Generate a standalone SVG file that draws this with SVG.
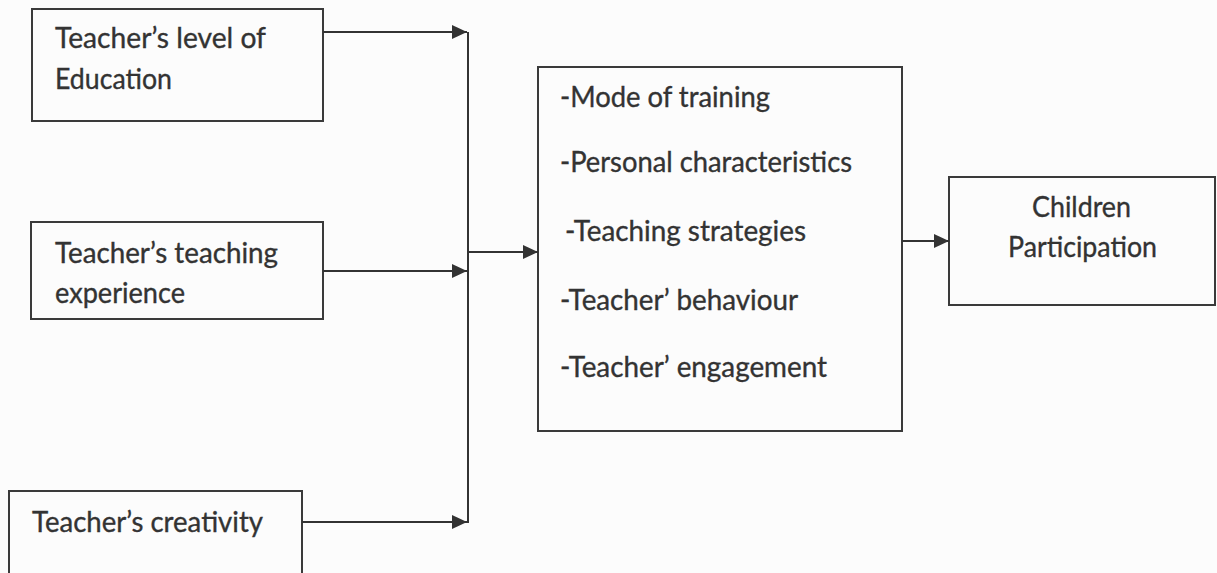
<svg xmlns="http://www.w3.org/2000/svg" width="1217" height="573" viewBox="0 0 1217 573">
  <style>
    .box { fill: none; stroke: #3a3a3a; stroke-width: 2; }
    .lbl { font-family: Lato, "Open Sans", "Liberation Sans", sans-serif; font-size: 28px; fill: #333; stroke: #333; stroke-width: 0.35; }
    .edge { fill: none; stroke: #333; stroke-width: 2; }
  </style>
  <defs>
    <marker id="arrow" markerWidth="15" markerHeight="14" refX="15" refY="7" orient="auto" markerUnits="userSpaceOnUse">
      <path d="M0,0 L15,7 L0,14 Z" fill="#333"/>
    </marker>
  </defs>
  <rect width="1217" height="573" fill="#fcfcfc"/>

  <g id="node-education">
    <rect class="box" x="32" y="9" width="291" height="112"/>
    <text class="lbl" x="55" y="48" textLength="211" lengthAdjust="spacingAndGlyphs">Teacher’s level of</text>
    <text class="lbl" x="55" y="89" textLength="117" lengthAdjust="spacingAndGlyphs">Education</text>
  </g>

  <g id="node-experience">
    <rect class="box" x="31" y="222" width="292" height="97"/>
    <text class="lbl" x="55" y="263" textLength="223" lengthAdjust="spacingAndGlyphs">Teacher’s teaching</text>
    <text class="lbl" x="55" y="303" textLength="130" lengthAdjust="spacingAndGlyphs">experience</text>
  </g>

  <g id="node-creativity">
    <rect class="box" x="9" y="491" width="293" height="100"/>
    <text class="lbl" x="32" y="532" textLength="231" lengthAdjust="spacingAndGlyphs">Teacher’s creativity</text>
  </g>

  <g id="node-factors">
    <rect class="box" x="538" y="67" width="364" height="364"/>
    <text class="lbl" x="560" y="107" textLength="210" lengthAdjust="spacingAndGlyphs">-Mode of training</text>
    <text class="lbl" x="560" y="172" textLength="292" lengthAdjust="spacingAndGlyphs">-Personal characteristics</text>
    <text class="lbl" x="565" y="241" textLength="241" lengthAdjust="spacingAndGlyphs">-Teaching strategies</text>
    <text class="lbl" x="560" y="310" textLength="238" lengthAdjust="spacingAndGlyphs">-Teacher’ behaviour</text>
    <text class="lbl" x="560" y="377" textLength="267" lengthAdjust="spacingAndGlyphs">-Teacher’ engagement</text>
  </g>

  <g id="node-participation">
    <rect class="box" x="949" y="177" width="266" height="128"/>
    <text class="lbl" x="1032" y="217" textLength="99" lengthAdjust="spacingAndGlyphs">Children</text>
    <text class="lbl" x="1008" y="257" textLength="149" lengthAdjust="spacingAndGlyphs">Participation</text>
  </g>

  <g id="connectors">
    <line class="edge" x1="323" y1="32" x2="467" y2="32" marker-end="url(#arrow)"/>
    <line class="edge" x1="323" y1="271" x2="467" y2="271" marker-end="url(#arrow)"/>
    <line class="edge" x1="302" y1="522" x2="467" y2="522" marker-end="url(#arrow)"/>
    <line class="edge" x1="468" y1="32" x2="468" y2="523"/>
    <line class="edge" x1="468" y1="252" x2="538" y2="252" marker-end="url(#arrow)"/>
    <line class="edge" x1="902" y1="241" x2="949" y2="241" marker-end="url(#arrow)"/>
  </g>
</svg>
